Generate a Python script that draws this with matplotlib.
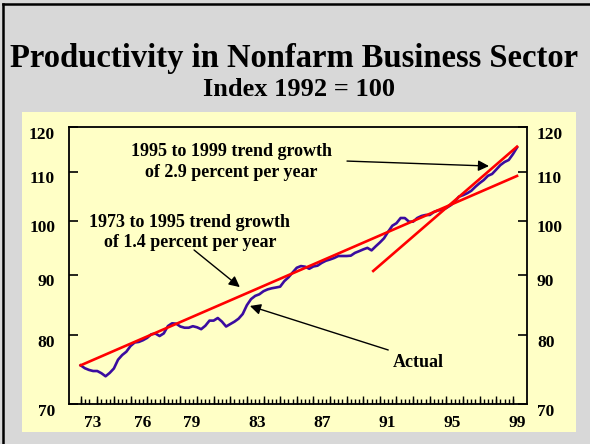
import matplotlib
matplotlib.use("Agg")
import matplotlib.pyplot as plt
import matplotlib.transforms as mtransforms
from matplotlib.patches import Rectangle
from matplotlib.lines import Line2D

# ---------------- data ----------------
start_year = 1973.0            # first quarter plotted (1973 Q1)
actual = [
    75.47, 75.05, 74.80, 74.64, 74.64, 74.32, 73.88, 74.37, 75.01, 76.30,
    77.00, 77.50, 78.36, 78.90, 78.99, 79.25, 79.61, 80.17, 80.28, 79.90,
    80.31, 81.46, 81.90, 81.84, 81.39, 81.20, 81.20, 81.44, 81.27, 80.97,
    81.51, 82.33, 82.33, 82.75, 82.17, 81.39, 81.78, 82.16, 82.64, 83.40,
    84.84, 85.85, 86.39, 86.66, 87.18, 87.49, 87.68, 87.81, 87.95, 88.90,
    89.56, 90.41, 91.25, 91.55, 91.44, 91.07, 91.48, 91.62, 92.12, 92.50,
    92.73, 93.00, 93.36, 93.36, 93.36, 93.42, 93.93, 94.24, 94.57, 94.85,
    94.39, 95.14, 95.85, 96.64, 97.89, 99.03, 99.52, 100.53, 100.52, 99.81,
    99.81, 100.53, 100.92, 101.12, 101.12, 101.71, 102.01, 102.11, 102.51, 103.03,
    103.71, 104.78, 105.09, 105.48, 106.00, 106.84, 107.59, 108.24, 109.13, 109.52,
    110.46, 111.43, 112.10, 112.54, 113.80, 115.31,
]
quarters = [start_year + i / 4 for i in range(len(actual))]

trend_7395_years = [1973.0, 1999.25]
trend_7395_vals = [75.47, 109.1]
trend_9599_years = [1990.6, 1999.25]
trend_9599_vals = [90.68, 115.5]

y_ticks = [70, 80, 90, 100, 110, 120]
x_label_text = ["73", "76", "79", "83", "87", "91", "95", "99"]
x_label_pos = [1973.75, 1976.72, 1979.7, 1983.62, 1987.52, 1991.45, 1995.35, 1999.25]
year_ticks = list(range(1973, 2000))

title = "Productivity in Nonfarm Business Sector"
subtitle = "Index 1992 = 100"
note_9599 = "1995 to 1999 trend growth\nof 2.9 percent per year"
note_7395 = "1973 to 1995 trend growth\nof 1.4 percent per year"
note_actual = "Actual"

# ---------------- figure ----------------
W, H = 590, 444
fig = plt.figure(figsize=(W / 100, H / 100), dpi=100)
fig.patch.set_facecolor("#d8d8d8")
serif = ["Liberation Serif", "DejaVu Serif"]

def fx(px):
    return px / W

def fy(py):
    return 1 - py / H

# frame lines at left and top
fig.add_artist(Line2D([fx(3), fx(3)], [0, fy(4)], color="black", lw=1.8, transform=fig.transFigure))
fig.add_artist(Line2D([fx(3), 1], [fy(4), fy(4)], color="black", lw=1.8, transform=fig.transFigure))

# yellow panel
fig.add_artist(Rectangle((fx(22), fy(432)), fx(576) - fx(22), fy(112) - fy(432),
                         transform=fig.transFigure, facecolor="#ffffc6", edgecolor="none", zorder=0))

fig.text(0.498, fy(59), title, ha="center", va="center", fontsize=23.5,
         fontweight="bold", family=serif)
fig.text(0.507, fy(89.5), subtitle, ha="center", va="center", fontsize=19,
         fontweight="bold", family=serif)

ax = fig.add_axes([fx(69), fy(404), fx(527) - fx(69), fy(127) - fy(404)])
ax.set_facecolor("none")
ax.set_yscale("log")
ax.set_ylim(70, 120)
ax.set_xlim(1972.3, 1999.85)

ax.plot(trend_7395_years, trend_7395_vals, color="#ff0000", lw=1.9, zorder=3)
ax.plot(trend_9599_years, trend_9599_vals, color="#ff0000", lw=1.9, zorder=3)
ax.plot(quarters, actual, color="#3a0ca0", lw=1.9, zorder=2)

for s in ax.spines.values():
    s.set_linewidth(1.3)

# y axis: ticks inward, labels on both sides
ax.yaxis.set_major_locator(matplotlib.ticker.FixedLocator(y_ticks))
ax.yaxis.set_minor_locator(matplotlib.ticker.NullLocator())
ax.yaxis.set_major_formatter(matplotlib.ticker.FixedFormatter([str(v) for v in y_ticks]))
ax.tick_params(axis="y", which="major", direction="in", length=6.5, width=1.2,
               left=True, right=True, labelleft=True, labelright=True,
               labelsize=12.5, pad=10)

# x axis: labels at fixed positions (no tick marks), quarter minor ticks
ax.xaxis.set_major_locator(matplotlib.ticker.FixedLocator(x_label_pos))
ax.xaxis.set_major_formatter(matplotlib.ticker.FixedFormatter(x_label_text))
ax.xaxis.set_minor_locator(matplotlib.ticker.FixedLocator(quarters))
ax.tick_params(axis="x", which="major", length=0, labelsize=12.5, pad=8)
ax.tick_params(axis="x", which="minor", direction="in", length=3.5, width=1.0)

# style tick labels (after all tick_params calls so transforms persist)
off_left = mtransforms.ScaledTranslation(0, -5.5 / 100, fig.dpi_scale_trans)
off_right = mtransforms.ScaledTranslation(-4 / 100, -5.5 / 100, fig.dpi_scale_trans)
for t in ax.yaxis.get_major_ticks():
    for lab in (t.label1, t.label2):
        lab.set_fontweight("bold")
        lab.set_family(serif)
    t.label1.set_transform(t.label1.get_transform() + off_left)
    t.label2.set_transform(t.label2.get_transform() + off_right)
for t in ax.xaxis.get_major_ticks():
    t.label1.set_fontweight("bold")
    t.label1.set_family(serif)

# year ticks (taller)
sec = ax.secondary_xaxis("bottom")
sec.set_xticks(year_ticks)
sec.set_xticklabels([])
sec.tick_params(direction="in", length=6, width=1.0)
sec.spines["bottom"].set_visible(False)

# annotations
akw = dict(arrowstyle="-|>", color="black", lw=1.0, mutation_scale=16, shrinkA=0, shrinkB=0)
tkw = dict(fontsize=13, fontweight="bold", family=serif, ha="center", va="center",
           linespacing=1.25)
ax.text(0.354, 0.874, note_9599, transform=ax.transAxes, **tkw)
ax.annotate("", xy=(0.917, 0.859), xytext=(0.607, 0.877), xycoords="axes fraction",
            arrowprops=akw)
ax.text(0.264, 0.619, note_7395, transform=ax.transAxes, **tkw)
ax.annotate("", xy=(0.373, 0.422), xytext=(0.273, 0.556), xycoords="axes fraction",
            arrowprops=akw)
ax.text(0.762, 0.15, note_actual, transform=ax.transAxes, **tkw)
ax.annotate("", xy=(0.395, 0.354), xytext=(0.697, 0.195), xycoords="axes fraction",
            arrowprops=akw)

fig.savefig("out.png", dpi=100, facecolor=fig.get_facecolor())
